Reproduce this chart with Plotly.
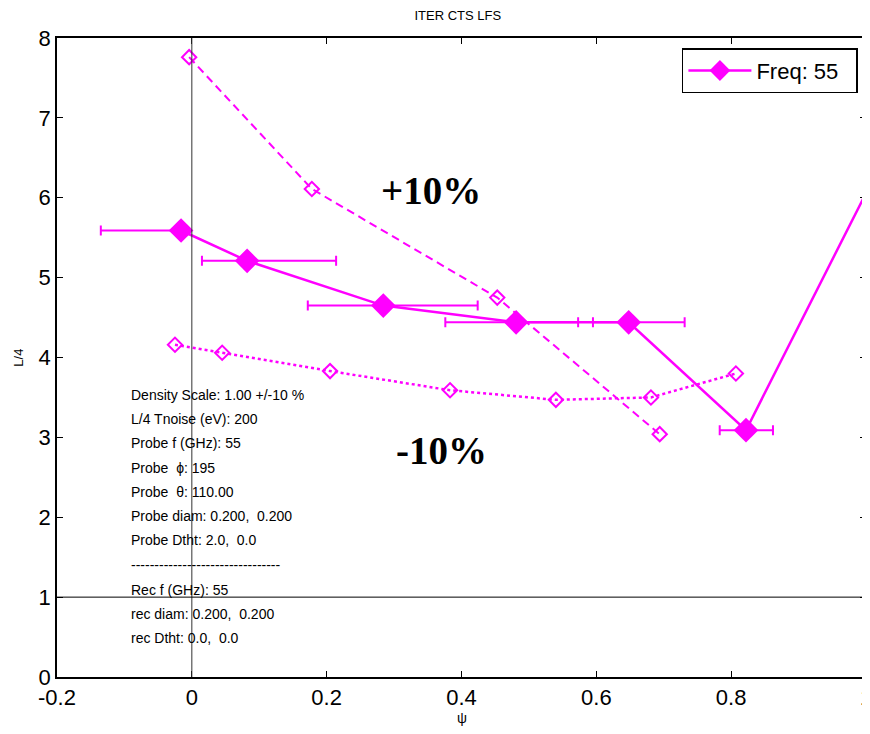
import plotly.graph_objects as go

# ---- data ----
psi_main = [-0.016, 0.082, 0.284, 0.481, 0.648, 0.822, 1.03]
l4_main = [5.59, 5.21, 4.65, 4.44, 4.44, 3.09, 6.56]
err_lo = [-0.135, 0.015, 0.172, 0.376, 0.595, 0.783, 1.03]
err_hi = [-0.016, 0.214, 0.424, 0.573, 0.731, 0.862, 1.03]

psi_plus = [-0.004, 0.178, 0.453, 0.694]
l4_plus = [7.76, 6.11, 4.75, 3.04]

psi_minus = [-0.025, 0.045, 0.205, 0.383, 0.540, 0.681, 0.807]
l4_minus = [4.16, 4.06, 3.83, 3.59, 3.47, 3.50, 3.80]

x_ticks = [-0.2, 0, 0.2, 0.4, 0.6, 0.8, 1]
x_tick_labels = ["-0.2", "0", "0.2", "0.4", "0.6", "0.8", "1"]
y_ticks = [0, 1, 2, 3, 4, 5, 6, 7, 8]

info_lines = [
    "Density Scale: 1.00 +/-10 %",
    "L/4 Tnoise (eV): 200",
    "Probe f (GHz): 55",
    "Probe  \u03d5: 195",
    "Probe  \u03b8: 110.00",
    "Probe diam: 0.200,  0.200",
    "Probe Dtht: 2.0,  0.0",
    "--------------------------------",
    "Rec f (GHz): 55",
    "rec diam: 0.200,  0.200",
    "rec Dtht: 0.0,  0.0",
]
info_y = [3.53, 3.23, 2.93, 2.62, 2.32, 2.01, 1.71, 1.40, 1.09, 0.79, 0.49]

MAG = "#ff00ff"
FONT = "Arial, Liberation Sans, Helvetica"

arr_plus = [h - p for h, p in zip(err_hi, psi_main)]
arr_minus = [p - l for l, p in zip(err_lo, psi_main)]

fig = go.Figure()

fig.add_trace(go.Scatter(
    x=psi_plus, y=l4_plus, mode="lines+markers",
    line=dict(color=MAG, width=2, dash="8px,5px"),
    marker=dict(symbol="diamond-open", size=11, color=MAG, line=dict(width=2, color=MAG)),
    showlegend=False,
))
fig.add_trace(go.Scatter(
    x=psi_minus, y=l4_minus, mode="lines+markers",
    line=dict(color=MAG, width=2.5, dash="3px,3px"),
    marker=dict(symbol="diamond-open", size=11, color=MAG, line=dict(width=2, color=MAG)),
    showlegend=False,
))
fig.add_trace(go.Scatter(
    x=psi_main, y=l4_main, mode="lines+markers", name="Freq: 55\u00a0\u00a0",
    line=dict(color=MAG, width=2.5),
    marker=dict(symbol="diamond", size=19, color=MAG),
    error_x=dict(type="data", symmetric=False, array=arr_plus, arrayminus=arr_minus,
                 color=MAG, thickness=2, width=5),
    cliponaxis=True,
))

fig.add_shape(type="line", x0=0, x1=0, y0=0, y1=8, xref="x", yref="y",
              line=dict(color="#333333", width=1))
fig.add_shape(type="line", x0=-0.2, x1=1, y0=1, y1=1, xref="x", yref="y",
              line=dict(color="black", width=1))

for txt, yy in zip(info_lines, info_y):
    fig.add_annotation(x=0.089, xref="paper", y=yy, yref="y", text=txt,
                       showarrow=False, xanchor="left", yanchor="middle",
                       font=dict(family=FONT, size=14, color="black"))

fig.add_annotation(x=0.355, y=6.09, text="<b>+10%</b>", showarrow=False,
                   font=dict(family="Liberation Serif, Times New Roman", size=39, color="black"))
fig.add_annotation(x=0.371, y=2.84, text="<b>-10%</b>", showarrow=False,
                   font=dict(family="Liberation Serif, Times New Roman", size=39, color="black"))

# axis titles
fig.add_annotation(x=0.5, xref="paper", y=-0.064, yref="paper", text="\u03c8",
                   showarrow=False, xanchor="center", yanchor="middle",
                   font=dict(family=FONT, size=14, color="black"))
fig.add_annotation(x=-0.048, xref="paper", y=0.5, yref="paper", text="L/4",
                   showarrow=False, xanchor="center", yanchor="middle", textangle=-90,
                   font=dict(family=FONT, size=13, color="black"))

axis_common = dict(showline=True, linecolor="black", linewidth=1.5, mirror="ticks",
                   ticks="inside", ticklen=6, tickcolor="black", showgrid=False,
                   zeroline=False, automargin=False, ticklabeloverflow="allow",
                   tickfont=dict(family=FONT, size=22, color="black"))

fig.update_xaxes(range=[-0.2, 1], tickvals=x_ticks, ticktext=x_tick_labels, **axis_common)
fig.update_yaxes(range=[0, 8], tickvals=y_ticks, **axis_common)

# page body has an 8px margin: figure is sized/offset so the plot lands where the reference has it
fig.update_layout(
    width=860, height=718,
    margin=dict(l=49, r=2, t=30, b=49, autoexpand=False),
    plot_bgcolor="white", paper_bgcolor="white",
    title=dict(text="ITER CTS LFS", x=0.523, xanchor="center", y=0.99, yanchor="middle",
               font=dict(family=FONT, size=13, color="black")),
    legend=dict(x=0.990, y=0.984, xanchor="right", yanchor="top",
                bordercolor="black", borderwidth=1.5, bgcolor="white", itemwidth=63,
                font=dict(family=FONT, size=22, color="black")),
    showlegend=True,
)

fig.write_html("out.html")
